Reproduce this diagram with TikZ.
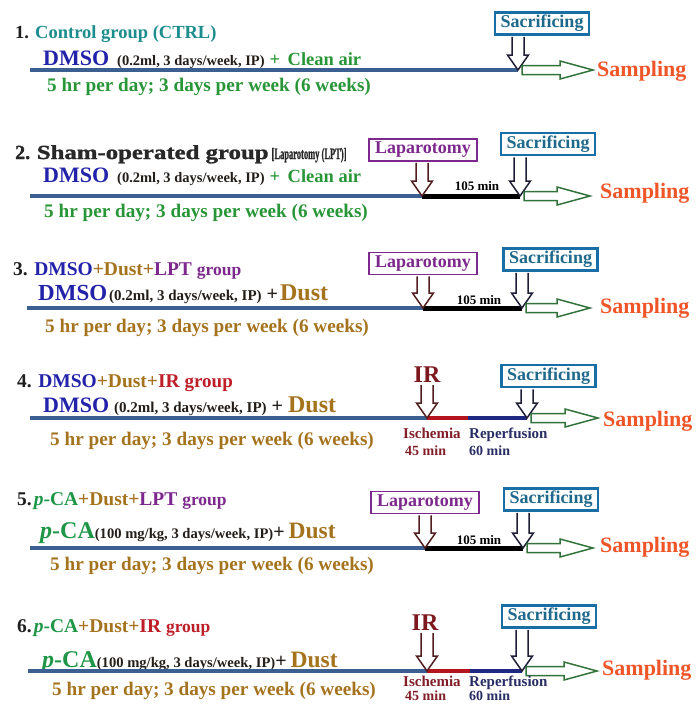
\documentclass[tikz,border=0pt]{standalone}
\usepackage{fontspec}
\setmainfont{Liberation Serif}
\newfontfamily\heavyfont{Liberation Serif}[BoldFeatures={FakeBold=1.2}]
\usepackage{graphicx}
\usetikzlibrary{calc}
\definecolor{cnum}{RGB}{30,30,30}
\definecolor{cteal}{RGB}{28,140,140}
\definecolor{cgray}{RGB}{40,40,40}
\definecolor{cgreen}{RGB}{40,150,55}
\definecolor{cdmso}{RGB}{35,35,170}
\definecolor{cdark}{RGB}{35,30,25}
\definecolor{cdust}{RGB}{165,115,30}
\definecolor{cpurp}{RGB}{125,40,140}
\definecolor{cirt}{RGB}{190,30,40}
\definecolor{cirbig}{RGB}{125,25,30}
\definecolor{cpca}{RGB}{30,150,70}
\definecolor{csamp}{RGB}{240,85,40}
\definecolor{csacb}{RGB}{25,110,165}
\definecolor{csact}{RGB}{30,105,140}
\definecolor{cline}{RGB}{60,95,145}
\definecolor{cisch}{RGB}{180,20,30}
\definecolor{creper}{RGB}{30,40,130}
\definecolor{cischt}{RGB}{130,30,40}
\definecolor{crept}{RGB}{40,45,100}
\definecolor{clarr}{RGB}{80,30,30}
\definecolor{csarr}{RGB}{30,30,55}
\definecolor{cgarr}{RGB}{50,115,60}
\newcommand\fsz[1]{\fontsize{#1}{#1}\selectfont}
\newcommand\hsc[2]{\scalebox{#1}[1]{#2}}
\newcommand\darr[3]{\draw[harrow,draw=#3] let \p1=(#1),\p2=(#2) in
  (\x2-6pt,\y1) -- (\x2-6pt,\y2+15pt) -- (\x2-10.5pt,\y2+15pt) -- (\x2,\y2)
  -- (\x2+10.5pt,\y2+15pt) -- (\x2+6pt,\y2+15pt) -- (\x2+6pt,\y1);}
\newcommand\rarr[3]{\draw[harrow,draw=#3] let \p1=(#1),\p2=(#2) in
  (\x1,\y1+4.5pt) -- (\x2-33pt,\y1+4.5pt) -- (\x2-33pt,\y1+9pt) -- (\x2,\y1)
  -- (\x2-33pt,\y1-9pt) -- (\x2-33pt,\y1-4.5pt) -- (\x1,\y1-4.5pt) -- cycle;}
\begin{document}
\begin{tikzpicture}[x=1pt,y=-1pt,
  txt/.style={anchor=base west, inner sep=0pt, font=\bfseries},
  ctxt/.style={anchor=base, inner sep=0pt, font=\bfseries},
  sacbox/.style={draw=csacb, line width=2.4pt, fill=white, minimum width=94pt,
    minimum height=22pt, inner sep=0pt, text=csact, font=\bfseries\fsz{18}},
  lapbox/.style={draw=cpurp, line width=1.8pt, fill=white, minimum width=108pt,
    minimum height=22pt, inner sep=0pt, text=cpurp, font=\bfseries\fsz{18}},
  harrow/.style={line width=1.5pt, fill=white, line join=miter},
  mainline/.style={line width=4.5pt, draw=cline},
  lptline/.style={line width=5pt, draw=black},
  ischline/.style={line width=4.5pt, draw=cisch},
  repline/.style={line width=4.5pt, draw=creper},
  samp/.style={anchor=base west, inner sep=0pt, font=\bfseries\fsz{22}, text=csamp},
]
\useasboundingbox (0,0) rectangle (697,705);

% ---------------- Group 1 ----------------
\node[txt] (t1) at (15,38) {\fsz{18.5}\color{cnum}1. \color{cteal}Control group (CTRL)};
\node[txt] (d1) at (43,65) {\fsz{22}\color{cdmso}DMSO\hspace*{8pt}\fsz{14.5}\color{cdark}(0.2ml, 3 days/week, IP)\hspace*{5pt}\fsz{18.5}\color{cgreen}+\hspace*{7.5pt}Clean air};
\node[txt] (h1) at (47,91) {\fsz{19.2}\color{cgreen}5 hr per day; 3 days per week (6 weeks)};
\coordinate (l1a) at (30,70);
\coordinate (l1s) at (518,70);
\coordinate (l1e) at (593,70);
\draw[mainline] (l1a) -- (l1s);
\node[sacbox] (s1) at (542,23.5) {Sacrificing};
\darr{$(s1.south)+(0,1.2)$}{l1s}{csarr}
\rarr{$(l1s)+(4,0)$}{l1e}{cgarr}
\node[samp] (p1) at (597,76) {Sampling};

% ---------------- Group 2 ----------------
\node[txt] (t2) at (15,159) {\heavyfont\bfseries\fsz{20}\color{cgray}2. \hsc{1.24}{Sham-operated group}\hspace*{3pt}\fsz{16}\hsc{0.53}{[Laparotomy (LPT)]}};
\node[txt] (d2) at (43,182) {\fsz{22}\color{cdmso}DMSO\hspace*{8pt}\fsz{14.5}\color{cdark}(0.2ml, 3 days/week, IP)\hspace*{5pt}\fsz{18.5}\color{cgreen}+\hspace*{7.5pt}Clean air};
\node[txt] (h2) at (44,217) {\fsz{19.2}\color{cgreen}5 hr per day; 3 days per week (6 weeks)};
\coordinate (l2a) at (30,196);
\coordinate (l2l) at (422,196);
\coordinate (l2s) at (520,196);
\coordinate (l2e) at (590,196);
\draw[mainline] (l2a) -- (l2l);
\draw[lptline] (l2l) -- (l2s);
\node[ctxt, font=\bfseries\fsz{13}] (m2) at (477,190) {105 min};
\node[lapbox] (b2) at (423,150) {Laparotomy};
\node[sacbox] (s2) at (548,144) {Sacrificing};
\darr{$(b2.south)+(0,1)$}{l2l}{clarr}
\darr{$(s2.south)+(0,1.2)$}{l2s}{csarr}
\rarr{$(l2s)+(4,0)$}{l2e}{cgarr}
\node[samp] (p2) at (600,198) {Sampling};

% ---------------- Group 3 ----------------
\node[txt] (t3) at (13,275) {\fsz{19.5}\color{cnum}3. \color{cdmso}DMSO\color{cdust}+Dust+\color{cpurp}LPT \fsz{17.5}group};
\node[txt] (d3) at (38,300) {\fsz{23}\color{cdmso}DMSO\hspace*{2pt}\fsz{15}\color{cdark}(0.2ml, 3 days/week, IP)\hspace*{5pt}\fsz{20}+\hspace*{2pt}\fsz{24}\color{cdust}Dust};
\node[txt] (h3) at (45,332) {\fsz{19.2}\color{cdust}5 hr per day; 3 days per week (6 weeks)};
\coordinate (l3a) at (27,308);
\coordinate (l3l) at (423,308);
\coordinate (l3s) at (522,308);
\coordinate (l3e) at (590,308);
\draw[mainline] (l3a) -- (l3l);
\draw[lptline] (l3l) -- (l3s);
\node[ctxt, font=\bfseries\fsz{13}] (m3) at (479,304) {105 min};
\node[lapbox] (b3) at (423,263.5) {Laparotomy};
\node[sacbox] (s3) at (550.5,259.5) {Sacrificing};
\darr{$(b3.south)+(0,1)$}{l3l}{clarr}
\darr{$(s3.south)+(0,1.2)$}{l3s}{csarr}
\rarr{$(l3s)+(4,0)$}{l3e}{cgarr}
\node[samp] (p3) at (600,313) {Sampling};

% ---------------- Group 4 ----------------
\node[txt] (t4) at (17,387) {\fsz{19.5}\color{cnum}4. \color{cdmso}DMSO\color{cdust}+Dust+\color{cirt}IR \fsz{19}group};
\node[txt] (d4) at (43,412) {\fsz{22}\color{cdmso}DMSO\hspace*{5pt}\fsz{15}\color{cdark}(0.2ml, 3 days/week, IP)\hspace*{5pt}\fsz{20}+\hspace*{5pt}\fsz{24}\color{cdust}Dust};
\node[txt] (h4) at (50,445) {\fsz{19.2}\color{cdust}5 hr per day; 3 days per week (6 weeks)};
\coordinate (l4a) at (30,418);
\coordinate (l4i) at (427,418);
\coordinate (l4r) at (468,418);
\coordinate (l4s) at (527,418);
\coordinate (l4e) at (598,418);
\draw[mainline] (l4a) -- (l4i);
\draw[ischline] (l4i) -- (l4r);
\draw[repline] (l4r) -- (l4s);
\node[ctxt, font=\bfseries\fsz{24}, text=cirbig] (ir4) at (427,382) {IR};
\node[sacbox] (s4) at (548.5,376) {Sacrificing};
\darr{$(ir4.south)+(0,3)$}{l4i}{clarr}
\darr{$(s4.south)+(0,1.2)$}{l4s}{csarr}
\rarr{$(l4s)+(4,0)$}{l4e}{cgarr}
\node[samp] (p4) at (603,426) {Sampling};
\node[txt, font=\bfseries\fsz{15}, text=cischt] (i4) at (403,438) {Ischemia};
\node[txt, font=\bfseries\fsz{14}, text=cischt] (i4m) at (405,455) {45 min};
\node[txt, font=\bfseries\fsz{15}, text=crept] (r4) at (469,438) {Reperfusion};
\node[txt, font=\bfseries\fsz{14}, text=crept] (r4m) at (469,455) {60 min};

% ---------------- Group 5 ----------------
\node[txt] (t5) at (17,505) {\fsz{19.5}\color{cnum}5.\hspace*{2pt}\color{cpca}\textit{p}-CA\color{cdust}+Dust+\color{cpurp}LPT \fsz{17.5}group};
\node[txt] (d5) at (40,538) {\fsz{24}\color{cpca}\textit{p}-CA\fsz{14.6}\color{cdark}(100 mg/kg, 3 days/week, IP)\fsz{20}+\hspace*{4pt}\fsz{23.5}\color{cdust}Dust};
\node[txt] (h5) at (50,570) {\fsz{19.2}\color{cdust}5 hr per day; 3 days per week (6 weeks)};
\coordinate (l5a) at (30,548);
\coordinate (l5l) at (425,548);
\coordinate (l5s) at (523,548);
\coordinate (l5e) at (593,548);
\draw[mainline] (l5a) -- (l5l);
\draw[lptline] (l5l) -- (l5s);
\node[ctxt, font=\bfseries\fsz{13}] (m5) at (479,544) {105 min};
\node[lapbox] (b5) at (425,502.5) {Laparotomy};
\node[sacbox] (s5) at (551,499.5) {Sacrificing};
\darr{$(b5.south)+(0,1)$}{l5l}{clarr}
\darr{$(s5.south)+(0,1.2)$}{l5s}{csarr}
\rarr{$(l5s)+(4,0)$}{l5e}{cgarr}
\node[samp] (p5) at (600,552) {Sampling};

% ---------------- Group 6 ----------------
\node[txt] (t6) at (17,632) {\fsz{19.5}\color{cnum}6.\hspace*{2pt}\color{cpca}\textit{p}-CA\color{cdust}+Dust+\color{cirt}IR \fsz{17.5}group};
\node[txt] (d6) at (42,667) {\fsz{24}\color{cpca}\textit{p}-CA\fsz{14.6}\color{cdark}(100 mg/kg, 3 days/week, IP)\fsz{20}+\hspace*{4pt}\fsz{23.5}\color{cdust}Dust};
\node[txt] (h6) at (52,695) {\fsz{19.2}\color{cdust}5 hr per day; 3 days per week (6 weeks)};
\coordinate (l6a) at (28,671);
\coordinate (l6i) at (427,671);
\coordinate (l6r) at (470,671);
\coordinate (l6s) at (522,671);
\coordinate (l6e) at (597,671);
\draw[mainline] (l6a) -- (l6i);
\draw[ischline] (l6i) -- (l6r);
\draw[repline] (l6r) -- (l6s);
\node[ctxt, font=\bfseries\fsz{24}, text=cirbig] (ir6) at (425,630) {IR};
\node[sacbox] (s6) at (549,616.5) {Sacrificing};
\darr{$(ir6.south)+(0,3)$}{l6i}{clarr}
\darr{$(s6.south)+(0,1.2)$}{l6s}{csarr}
\rarr{$(l6s)+(4,0)$}{l6e}{cgarr}
\node[samp] (p6) at (602,675) {Sampling};
\node[txt, font=\bfseries\fsz{15}, text=cischt] (i6) at (403,686) {Ischemia};
\node[txt, font=\bfseries\fsz{14}, text=cischt] (i6m) at (405,700) {45 min};
\node[txt, font=\bfseries\fsz{15}, text=crept] (r6) at (469,686) {Reperfusion};
\node[txt, font=\bfseries\fsz{14}, text=crept] (r6m) at (469,700) {60 min};
\end{tikzpicture}
\end{document}
